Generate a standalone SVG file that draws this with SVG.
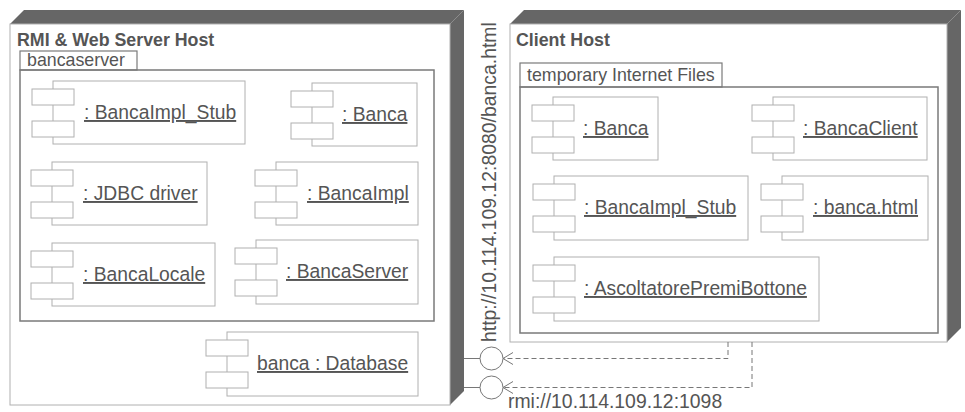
<svg xmlns="http://www.w3.org/2000/svg" width="965" height="412" viewBox="0 0 965 412">
<defs>
<style>
.dark{fill:#666;stroke:none}
.face{fill:#fff;stroke:#b0b0b0;stroke-width:1}
.pkg{fill:none;stroke:#7a7a7a;stroke-width:1.5}
.tab{fill:#fff;stroke:#7a7a7a;stroke-width:1.2}
.cbox{fill:#fff;stroke:#b0b0b0;stroke-width:1}
.title{font-family:"Liberation Sans",Arial,sans-serif;font-weight:bold;font-size:17.8px;fill:#555}
.tabt{font-family:"Liberation Sans",Arial,sans-serif;font-size:17.8px;fill:#555}
.lbl{font-family:"Liberation Sans",Arial,sans-serif;font-size:19.3px;fill:#555;text-decoration:underline}
.url{font-family:"Liberation Sans",Arial,sans-serif;font-size:19.4px;fill:#555}
.dep{fill:none;stroke:#777;stroke-width:1;stroke-dasharray:5,3}
.arr{fill:none;stroke:#777;stroke-width:1}
.lol{fill:#fff;stroke:#777;stroke-width:1}
</style>
<symbol id="comp" overflow="visible">
<rect x="-21" y="8" width="42" height="16" class="cbox"/>
<rect x="-21" y="40" width="42" height="16" class="cbox"/>
</symbol>
</defs>

<g id="server-host">
<polygon class="dark" points="10,24 24,10 464,10 450,24"/>
<polygon class="dark" points="450,24 464,10 464,391 450,405"/>
<rect class="face" x="10" y="24" width="440" height="381"/>
<text class="title" x="17" y="46">RMI &amp; Web Server Host</text>
</g>

<g id="bancaserver">
<rect class="tab" x="20" y="51" width="117" height="19"/>
<text class="tabt" x="27" y="66">bancaserver</text>
<rect class="pkg" x="20" y="70" width="414" height="251"/>
</g>

<g id="s-stub">
<rect class="cbox" x="53" y="81" width="192" height="63"/>
<use href="#comp" x="53" y="81"/>
<text class="lbl" x="84" y="119">: BancaImpl_Stub</text>
</g>
<g id="s-banca">
<rect class="cbox" x="312" y="83" width="105" height="63"/>
<use href="#comp" x="312" y="83"/>
<text class="lbl" x="342" y="121">: Banca</text>
</g>
<g id="s-jdbc">
<rect class="cbox" x="52" y="162" width="155" height="63"/>
<use href="#comp" x="52" y="162"/>
<text class="lbl" x="83" y="200">: JDBC driver</text>
</g>
<g id="s-impl">
<rect class="cbox" x="276" y="162" width="142" height="63"/>
<use href="#comp" x="276" y="162"/>
<text class="lbl" x="307" y="200">: BancaImpl</text>
</g>
<g id="s-locale">
<rect class="cbox" x="52" y="243" width="163" height="63"/>
<use href="#comp" x="52" y="243"/>
<text class="lbl" x="83" y="281">: BancaLocale</text>
</g>
<g id="s-server">
<rect class="cbox" x="256" y="240" width="162" height="64"/>
<use href="#comp" x="256" y="240"/>
<text class="lbl" x="286" y="278">: BancaServer</text>
</g>
<g id="s-db">
<rect class="cbox" x="227" y="332" width="191" height="64"/>
<use href="#comp" x="227" y="332"/>
<text class="lbl" x="257" y="370">banca : Database</text>
</g>

<g id="client-host">
<polygon class="dark" points="510,24 524,10 961,10 947,24"/>
<polygon class="dark" points="947,24 961,10 961,328 947,342"/>
<rect class="face" x="510" y="24" width="437" height="318"/>
<text class="title" x="516" y="46">Client Host</text>
</g>

<g id="temp-files">
<rect class="tab" x="520" y="63" width="202" height="24"/>
<text class="tabt" x="527" y="81">temporary Internet Files</text>
<rect class="pkg" x="520" y="87" width="418" height="246"/>
</g>

<g id="c-banca">
<rect class="cbox" x="553" y="97" width="105" height="63"/>
<use href="#comp" x="553" y="97"/>
<text class="lbl" x="583" y="135">: Banca</text>
</g>
<g id="c-client">
<rect class="cbox" x="773" y="97" width="154" height="63"/>
<use href="#comp" x="773" y="97"/>
<text class="lbl" x="803" y="135">: BancaClient</text>
</g>
<g id="c-stub">
<rect class="cbox" x="554" y="176" width="194" height="64"/>
<use href="#comp" x="554" y="176"/>
<text class="lbl" x="584" y="214">: BancaImpl_Stub</text>
</g>
<g id="c-html">
<rect class="cbox" x="782" y="176" width="146" height="64"/>
<use href="#comp" x="782" y="176"/>
<text class="lbl" x="813" y="214">: banca.html</text>
</g>
<g id="c-ascoltatore">
<rect class="cbox" x="554" y="257" width="265" height="64"/>
<use href="#comp" x="554" y="257"/>
<text class="lbl" x="584" y="295">: AscoltatorePremiBottone</text>
</g>

<g id="if-http">
<line class="arr" x1="464" y1="358.5" x2="480" y2="358.5"/>
<circle class="lol" cx="491.5" cy="358.5" r="11.5"/>
<text class="url" transform="translate(496,342) rotate(-90)">http://10.114.109.12:8080/banca.html</text>
</g>
<g id="if-rmi">
<line class="arr" x1="464" y1="387.5" x2="480" y2="387.5"/>
<circle class="lol" cx="491.5" cy="387.5" r="11.5"/>
<text class="url" x="508" y="407.5">rmi://10.114.109.12:1098</text>
</g>

<g id="connectors">
<path class="dep" d="M728,342 V358.5 H503"/>
<polyline class="arr" points="513,352.5 503,358.5 513,364.5"/>
<path class="dep" d="M752,342 V387.5 H503"/>
<polyline class="arr" points="513,381.5 503,387.5 513,393.5"/>
</g>
</svg>
